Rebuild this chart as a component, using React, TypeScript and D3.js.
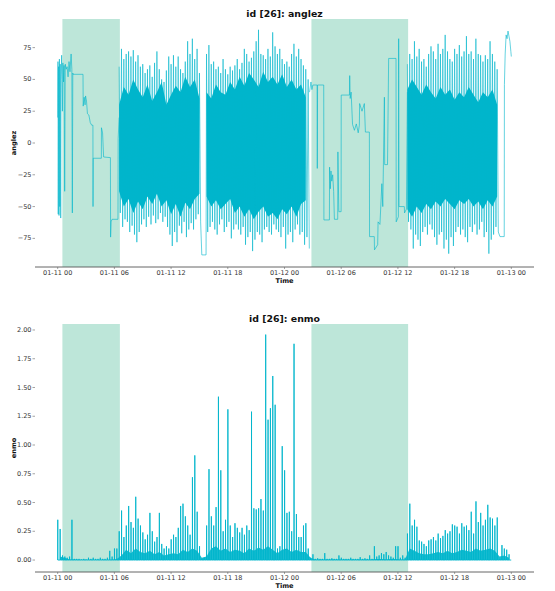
import React from "react";
import * as d3 from "d3";

// ---------- data ----------
const LINE = "#00b5cc";
const SHADE = "#bde6d9";
const FONT = "'DejaVu Sans', sans-serif";

const BASE = new Date(2018, 0, 11, 0, 0, 0);
const hourToDate = (h: number) => new Date(BASE.getTime() + h * 3600e3);

// sleep windows (hours since 01-11 00:00)
const onsetHours = [0.5, 26.85];
const wakeupHours = [6.58, 37.08];

const xTickHours = [0, 6, 12, 18, 24, 30, 36, 42, 48];
const anglezTicks = [-75, -50, -25, 0, 25, 50, 75];
const enmoTicks = [0, 0.25, 0.5, 0.75, 1.0, 1.25, 1.5, 1.75, 2.0];

// anglez: step-like sleep segments
const sleep1Hours = [0.0, 0.03, 0.06, 0.1, 0.14, 0.18, 0.22, 0.27, 0.32, 0.36, 0.42, 0.5, 0.55, 0.62, 0.68, 0.74, 0.8, 0.9, 1.0, 1.1, 1.2, 1.3, 1.42, 1.5, 1.55, 1.6, 1.62, 2.68, 2.7, 2.8, 2.9, 2.95, 3.05, 3.15, 3.3, 3.45, 3.6, 3.73, 3.74, 3.76, 4.62, 4.63, 4.75, 4.86, 5.58, 5.6, 5.65, 5.75, 6.38, 6.4, 6.5];
const sleep1Values = [20, 64, -56, 60, -57, 66, -50, 62, -59, 50, 69, 25, 63, 48, 61, -38, 62, 58, 60, 52, 64, 56, 70, 58, -55, 55, 54, 54, 29, 36, 30, 37, 33, 23, 22, 16, 14, 14, -50, -12, -12, 12, 8, -11, -11.5, -74, -62, -60, -60, 3.5, 20];

const gapHours = [15.125, 15.25, 15.7, 15.75];
const gapValues = [-62, -88, -88, 70];

const sleep2Hours = [26.65, 26.8, 26.9, 27.0, 27.45, 27.47, 27.5, 28.15, 28.17, 28.75, 28.77, 28.85, 28.92, 29.0, 29.1, 29.2, 29.28, 29.63, 29.65, 29.75, 29.99, 30.0, 30.87, 30.9, 30.95, 31.05, 31.2, 31.4, 31.6, 31.8, 31.92, 31.95, 32.2, 32.45, 32.56, 32.98, 33.0, 33.5, 33.52, 33.86, 33.9, 34.1, 34.3, 34.4, 34.57, 34.6, 34.9, 35.02, 35.8, 35.82, 36.05, 36.08, 36.12, 36.68, 36.7, 36.9, 37.0];
const sleep2Values = [40, 48, 42, 45.6, 45.6, -20, 45.6, 45.6, -60.5, -60.5, -19, -36, -22, -30, -25, -38, -60, -60, -7, -54, -54, 37.7, 37.7, 53, 35, 40, 14.6, 10, 15, 8, 14, 31, 25, 31, 8.6, 8.6, -73.6, -73.6, -84, -80, -62, -64, -32, -50, 36, -17, -17, 66.5, 66.5, -62, -58, 82, -50, -50, -55, -52, 40];

const tailHours = [46.625, 46.8, 47.25, 47.27, 47.35, 47.45, 47.55, 47.65, 47.75, 47.85, 47.95, 48.0];
const tailValues = [-70, -73.6, -73.6, 46, 70, 85, 82, 88, 84, 80, 72, 68];

// anglez: awake segments, 15-min bins (max / min of each bin)
const awake1Start = 6.5;
const awake1Hi = [60, 74, 66, 70, 72, 68, 73, 64, 69, 60, 62, 55, 58, 61, 52, 63, 72, 58, 50, 48, 57, 68, 62, 69, 60, 68, 58, 55, 64, 80, 70, 82, 66, 74, 55];
const awake1Lo = [-55, -66, -60, -62, -70, -65, -72, -78, -70, -64, -60, -66, -58, -64, -57, -63, -60, -55, -62, -58, -66, -72, -81, -70, -78, -65, -71, -62, -74, -68, -63, -68, -60, -56, -62];

const awake2Start = 15.75;
const awake2Hi = [70, 77, 62, 64, 58, 60, 55, 66, 58, 54, 60, 57, 61, 66, 58, 63, 74, 70, 64, 67, 72, 80, 89, 70, 69, 66, 74, 68, 87, 76, 70, 74, 66, 62, 64, 60, 70, 78, 68, 74, 66, 61, 58, 50];
const awake2Lo = [-70, -66, -62, -68, -72, -64, -60, -70, -66, -62, -75, -68, -64, -68, -72, -66, -80, -74, -70, -85, -76, -70, -72, -78, -68, -66, -70, -72, -64, -68, -70, -74, -66, -83, -72, -70, -78, -68, -64, -72, -70, -80, -74, -83];

const awake3Start = 37.0;
const awake3Hi = [62, 70, 66, 80, 68, 74, 64, 66, 60, 70, 76, 72, 66, 78, 70, 74, 85, 72, 66, 64, 74, 70, 77, 68, 72, 84, 70, 72, 66, 82, 70, 69, 64, 69, 66, 80, 70, 64, 58];
const awake3Lo = [-62, -68, -83, -72, -76, -81, -70, -66, -72, -64, -68, -74, -80, -72, -70, -83, -76, -87, -74, -81, -70, -66, -72, -68, -74, -78, -66, -70, -64, -72, -68, -62, -74, -70, -87, -76, -72, -66, -70];

// anglez: dense core band of the awake segments, 30-min bins
const core1Start = 6.5;
const core1Hi = [30, 44, 38, 50, 42, 36, 46, 33, 40, 48, 30, 38, 45, 40, 52, 44, 50, 35];
const core1Lo = [-38, -50, -44, -55, -46, -52, -42, -48, -40, -50, -45, -56, -48, -58, -47, -52, -44, -40];
const core2Start = 15.75;
const core2Hi = [40, 35, 46, 40, 38, 48, 42, 52, 45, 55, 50, 44, 56, 48, 52, 46, 54, 44, 50, 42, 46, 36];
const core2Lo = [-42, -50, -45, -52, -48, -44, -55, -50, -58, -52, -60, -54, -50, -58, -55, -60, -52, -56, -50, -58, -48, -45];
const core3Start = 37.0;
const core3Hi = [42, 50, 44, 38, 46, 40, 35, 44, 38, 42, 34, 40, 36, 44, 38, 32, 40, 36, 42, 30];
const core3Lo = [-52, -58, -50, -55, -48, -52, -46, -50, -44, -48, -52, -45, -48, -44, -50, -46, -52, -45, -50, -42];

// enmo: peak of each 15-min bin, 01-11 00:00 .. 01-13 00:00
const enmoPeak = [
  0.35, 0.27, 0.04, 0.03, 0.02, 0.03, 0.35, 0.01, 0.01, 0.01, 0.005, 0.01, 0.005, 0.02, 0.01, 0.02,
  0.01, 0.01, 0.02, 0.01, 0.01, 0.02, 0.08, 0.03, 0.1, 0.1, 0.25, 0.43, 0.2, 0.3, 0.47, 0.33,
  0.28, 0.55, 0.36, 0.3, 0.24, 0.18, 0.22, 0.41, 0.25, 0.16, 0.2, 0.41, 0.14, 0.1, 0.12, 0.1,
  0.18, 0.22, 0.2, 0.28, 0.47, 0.49, 0.38, 0.3, 0.22, 0.72, 0.91, 0.42, 0.12, 0.01, 0.02, 0.3,
  0.79, 0.38, 0.3, 0.46, 1.42, 0.78, 0.25, 0.35, 1.31, 0.3, 0.2, 0.32, 0.28, 0.24, 0.28, 0.22,
  0.3, 0.26, 1.29, 0.45, 0.44, 0.45, 0.53, 0.43, 1.96, 1.22, 1.32, 1.6, 1.35, 0.1, 0.12, 0.99,
  0.78, 0.41, 0.42, 0.25, 1.88, 0.4, 0.2, 0.2, 0.3, 0.32, 0.1, 0.02, 0.05, 0.01, 0.015, 0.01,
  0.01, 0.06, 0.01, 0.01, 0.015, 0.01, 0.01, 0.04, 0.02, 0.01, 0.01, 0.01, 0.02, 0.01, 0.01, 0.01,
  0.025, 0.01, 0.015, 0.01, 0.04, 0.01, 0.12, 0.03, 0.04, 0.06, 0.05, 0.07, 0.04, 0.03, 0.02, 0.12,
  0.12, 0.02, 0.04, 0.02, 0.23, 0.49, 0.3, 0.35, 0.29, 0.17, 0.16, 0.14, 0.12, 0.17, 0.18, 0.2,
  0.17, 0.23, 0.19, 0.21, 0.26, 0.23, 0.25, 0.31, 0.3, 0.29, 0.23, 0.32, 0.29, 0.3, 0.26, 0.42,
  0.23, 0.51, 0.33, 0.41, 0.3, 0.35, 0.48, 0.37, 0.36, 0.3, 0.37, 0.01, 0.13, 0.1, 0.09, 0.05,
];
// enmo: dense band level, one per 30 min
const enmoBand = [
  0.03, 0.02, 0.005, 0.005, 0.003, 0.003, 0.003, 0.003, 0.003, 0.003, 0.003, 0.003, 0.01, 0.04, 0.09, 0.06,
  0.1, 0.07, 0.06, 0.08, 0.05, 0.07, 0.04, 0.05, 0.06, 0.05, 0.09, 0.07, 0.1, 0.08, 0.02, 0.03,
  0.1, 0.12, 0.08, 0.1, 0.07, 0.09, 0.08, 0.06, 0.1, 0.08, 0.11, 0.09, 0.12, 0.09, 0.06, 0.09,
  0.1, 0.07, 0.09, 0.07, 0.07, 0.02, 0.005, 0.005, 0.005, 0.005, 0.005, 0.005, 0.005, 0.005, 0.005, 0.005,
  0.005, 0.005, 0.005, 0.01, 0.01, 0.005, 0.01, 0.01, 0.005, 0.005, 0.1, 0.08, 0.06, 0.05, 0.05, 0.06,
  0.07, 0.06, 0.08, 0.06, 0.07, 0.09, 0.08, 0.07, 0.1, 0.08, 0.09, 0.1, 0.08, 0.03, 0.04, 0.02,
];

// ---------- layout ----------
const W = 555;
const H = 591;
const LEFT = 35;
const RIGHT = 534;

const x = d3
  .scaleTime()
  .domain([hourToDate(-2.4), hourToDate(50.4)])
  .range([LEFT, RIGHT]);
const X = (h: number) => x(hourToDate(h));
const xFmt = d3.timeFormat("%m-%d %H");

type Pt = [number, number];

function zip(hs: number[], vs: number[]): Pt[] {
  return hs.map((h, i) => [h, vs[i]] as Pt);
}
function zigzag(start: number, hi: number[], lo: number[], step = 0.25): Pt[] {
  const pts: Pt[] = [];
  hi.forEach((v, i) => {
    pts.push([start + i * step, v]);
    pts.push([start + i * step + step / 2, lo[i]]);
  });
  return pts;
}
function spikes(peaks: number[], step = 0.25): Pt[] {
  const pts: Pt[] = [];
  peaks.forEach((v, i) => {
    const t = i * step;
    pts.push([t, 0]);
    pts.push([t + 0.01, v]);
    pts.push([t + 0.02, 0]);
  });
  pts.push([peaks.length * step - 0.01, 0]);
  return pts;
}

function Panel(props: {
  top: number;
  bottom: number;
  yDomain: [number, number];
  yTicks: number[];
  yFmt: (v: number) => string;
  title: string;
  ylabel: string;
  render: (y: d3.ScaleLinear<number, number>) => React.ReactNode;
}) {
  const { top, bottom, yDomain, yTicks, yFmt, title, ylabel, render } = props;
  const y = d3.scaleLinear().domain(yDomain).range([bottom, top]);
  const cx = (LEFT + RIGHT) / 2;
  return (
    <g>
      {onsetHours.map((o, i) => (
        <rect
          key={i}
          x={X(o)}
          y={top}
          width={X(wakeupHours[i]) - X(o)}
          height={bottom - top}
          fill={SHADE}
        />
      ))}
      {render(y)}
      <line x1={LEFT} x2={RIGHT} y1={bottom} y2={bottom} stroke="#555" strokeWidth={0.9} />
      {yTicks.map((t) => (
        <g key={t}>
          <line x1={LEFT - 2.5} x2={LEFT} y1={y(t)} y2={y(t)} stroke="#666" strokeWidth={0.6} />
          <text
            x={LEFT - 3.5}
            y={y(t)}
            dy="0.32em"
            textAnchor="end"
            fontSize={6.5}
            fill="#333"
            fontFamily={FONT}
          >
            {yFmt(t)}
          </text>
        </g>
      ))}
      {xTickHours.map((h) => (
        <g key={h}>
          <line x1={X(h)} x2={X(h)} y1={bottom} y2={bottom + 2} stroke="#666" strokeWidth={0.6} />
          <text
            x={X(h)}
            y={bottom + 3}
            dy="0.71em"
            textAnchor="middle"
            fontSize={6.5}
            fill="#333"
            fontFamily={FONT}
          >
            {xFmt(hourToDate(h))}
          </text>
        </g>
      ))}
      <text
        x={cx}
        y={bottom + 16}
        textAnchor="middle"
        fontSize={6.6}
        fontWeight="bold"
        fill="#111"
        fontFamily={FONT}
      >
        Time
      </text>
      <text
        transform={`translate(15.5,${(top + bottom) / 2}) rotate(-90)`}
        textAnchor="middle"
        fontSize={6.6}
        fontWeight="bold"
        fill="#111"
        fontFamily={FONT}
      >
        {ylabel}
      </text>
      <text
        x={cx}
        y={top - 2.5}
        textAnchor="middle"
        fontSize={9.4}
        fontWeight="bold"
        fill="#111"
        fontFamily={FONT}
      >
        {title}
      </text>
    </g>
  );
}

export default function App() {
  const minus = (v: number) => (v < 0 ? "\u2212" + Math.abs(v) : String(v));
  return (
    <svg
      width={W}
      height={H}
      viewBox={`0 0 ${W} ${H}`}
      style={{ position: "absolute", left: 0, top: 0, background: "#fff" }}
    >
      <rect width={W} height={H} fill="#fff" />
      <Panel
        top={19}
        bottom={267}
        yDomain={[-97.5, 97.5]}
        yTicks={anglezTicks}
        yFmt={minus}
        title="id [26]: anglez"
        ylabel="anglez"
        render={(y) => {
          const line = d3
            .line<Pt>()
            .x((d) => X(d[0]))
            .y((d) => y(d[1]));
          const area = (start: number, hi: number[], lo: number[]) =>
            d3
              .area<number>()
              .x((_, i) => X(start + i * 0.5))
              .y0((_, i) => y(lo[i]))
              .y1((v) => y(v))(hi) || "";
          const cores = [
            area(core1Start, core1Hi, core1Lo),
            area(core2Start, core2Hi, core2Lo),
            area(core3Start, core3Hi, core3Lo),
          ];
          const lines = [
            zip(sleep1Hours, sleep1Values),
            zigzag(awake1Start, awake1Hi, awake1Lo),
            zip(gapHours, gapValues),
            zigzag(awake2Start, awake2Hi, awake2Lo),
            zip(sleep2Hours, sleep2Values),
            zigzag(awake3Start, awake3Hi, awake3Lo),
            zip(tailHours, tailValues),
          ];
          return (
            <g>
              {cores.map((d, i) => (
                <path key={"c" + i} d={d} fill={LINE} fillOpacity={1} />
              ))}
              {lines.map((pts, i) => (
                <path
                  key={"l" + i}
                  d={line(pts) || ""}
                  fill="none"
                  stroke={LINE}
                  strokeWidth={0.75}
                  strokeOpacity={0.8}
                  strokeLinejoin="round"
                />
              ))}
            </g>
          );
        }}
      />
      <Panel
        top={324}
        bottom={572}
        yDomain={[-0.104, 2.052]}
        yTicks={enmoTicks}
        yFmt={d3.format(".2f")}
        title="id [26]: enmo"
        ylabel="enmo"
        render={(y) => {
          const line = d3
            .line<Pt>()
            .x((d) => X(d[0]))
            .y((d) => y(d[1]));
          const band =
            d3
              .area<number>()
              .x((_, i) => X(i * 0.5 + 0.25))
              .y0(() => y(0))
              .y1((v) => y(v))(enmoBand) || "";
          return (
            <g>
              <path d={band} fill={LINE} fillOpacity={0.9} />
              <path
                d={line(spikes(enmoPeak)) || ""}
                fill="none"
                stroke={LINE}
                strokeWidth={0.9}
                strokeLinejoin="round"
              />
            </g>
          );
        }}
      />
    </svg>
  );
}
